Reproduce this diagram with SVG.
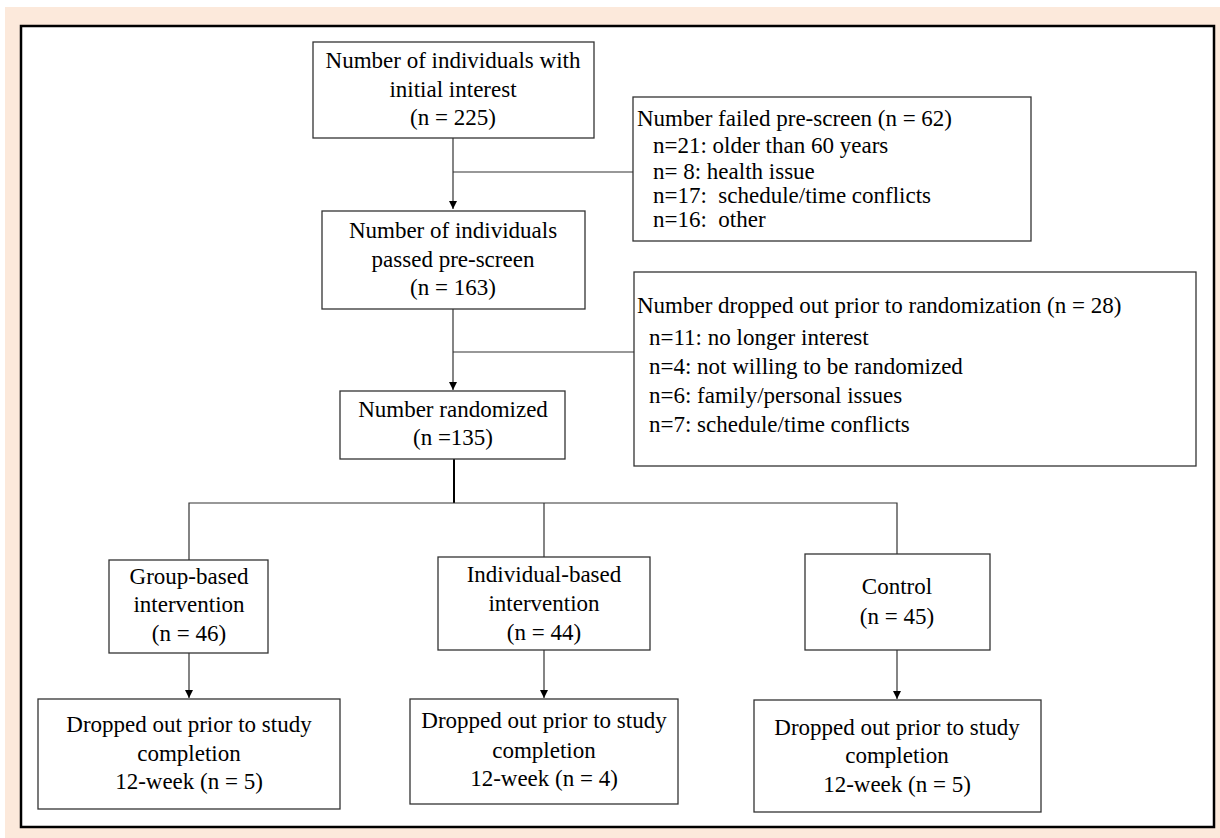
<svg xmlns="http://www.w3.org/2000/svg" width="1220" height="838" viewBox="0 0 1220 838">
<style>
.box{fill:#fff;stroke:#333;stroke-width:1.3}
.t{font-family:"Liberation Serif","Times New Roman",serif;font-size:23px;fill:#000}
.c{text-anchor:middle}
.ln{stroke:#333;stroke-width:1.2;fill:none}
</style>
<defs>
<marker id="ah" markerWidth="8" markerHeight="8" refX="8" refY="4" orient="auto" markerUnits="userSpaceOnUse">
<path d="M0,0 L8,4 L0,8 Z" fill="#000"/>
</marker>
</defs>
<rect x="0" y="0" width="1220" height="838" fill="#fff"/>
<rect x="5" y="7" width="1215" height="831" fill="#FCE9DB"/>
<rect x="21" y="26" width="1193" height="801" fill="#fff" stroke="#000" stroke-width="2.5"/>

<g id="connectors">
<line class="ln" x1="453" y1="138" x2="453" y2="209" marker-end="url(#ah)"/>
<line class="ln" x1="453" y1="172" x2="633" y2="172"/>
<line class="ln" x1="453" y1="309" x2="453" y2="390" marker-end="url(#ah)"/>
<line class="ln" x1="453" y1="352" x2="634" y2="352"/>
<line x1="454" y1="459" x2="454" y2="503" stroke="#000" stroke-width="2"/>
<polyline class="ln" points="189,560 189,503 897,503 897,554"/>
<line class="ln" x1="544" y1="503" x2="544" y2="557"/>
<line class="ln" x1="189" y1="653" x2="189" y2="698" marker-end="url(#ah)"/>
<line class="ln" x1="544" y1="650" x2="544" y2="698" marker-end="url(#ah)"/>
<line class="ln" x1="897" y1="650" x2="897" y2="699" marker-end="url(#ah)"/>
</g>

<g id="n-initial">
<rect class="box" x="313" y="42" width="281" height="96"/>
<text class="t c" x="453" y="68">Number of individuals with</text>
<text class="t c" x="453" y="97">initial interest</text>
<text class="t c" x="453" y="125">(n = 225)</text>
</g>

<g id="n-failed">
<rect class="box" x="633" y="97" width="398" height="144"/>
<text class="t" x="637" y="126">Number failed pre-screen (n = 62)</text>
<text class="t" x="653" y="153">n=21: older than 60 years</text>
<text class="t" x="653" y="179">n= 8: health issue</text>
<text class="t" x="653" y="203" xml:space="preserve">n=17:  schedule/time conflicts</text>
<text class="t" x="653" y="227" xml:space="preserve">n=16:  other</text>
</g>

<g id="n-passed">
<rect class="box" x="322" y="211" width="263" height="98"/>
<text class="t c" x="453" y="238">Number of individuals</text>
<text class="t c" x="453" y="267">passed pre-screen</text>
<text class="t c" x="453" y="295">(n = 163)</text>
</g>

<g id="n-dropped-rand">
<rect class="box" x="634" y="272" width="562" height="194"/>
<text class="t" x="637" y="313">Number dropped out prior to randomization (n = 28)</text>
<text class="t" x="649" y="345">n=11: no longer interest</text>
<text class="t" x="649" y="374">n=4: not willing to be randomized</text>
<text class="t" x="649" y="403">n=6: family/personal issues</text>
<text class="t" x="649" y="432">n=7: schedule/time conflicts</text>
</g>

<g id="n-randomized">
<rect class="box" x="340" y="391" width="225" height="68"/>
<text class="t c" x="453" y="417">Number randomized</text>
<text class="t c" x="453" y="445">(n =135)</text>
</g>

<g id="n-group">
<rect class="box" x="109" y="560" width="159" height="93"/>
<text class="t c" x="189" y="584">Group-based</text>
<text class="t c" x="189" y="612">intervention</text>
<text class="t c" x="189" y="641">(n = 46)</text>
</g>

<g id="n-individual">
<rect class="box" x="438" y="557" width="212" height="93"/>
<text class="t c" x="544" y="582">Individual-based</text>
<text class="t c" x="544" y="611">intervention</text>
<text class="t c" x="544" y="640">(n = 44)</text>
</g>

<g id="n-control">
<rect class="box" x="805" y="554" width="185" height="96"/>
<text class="t c" x="897" y="594">Control</text>
<text class="t c" x="897" y="624">(n = 45)</text>
</g>

<g id="n-drop-group">
<rect class="box" x="38" y="699" width="302" height="110"/>
<text class="t c" x="189" y="732">Dropped out prior to study</text>
<text class="t c" x="189" y="761">completion</text>
<text class="t c" x="189" y="789">12-week (n = 5)</text>
</g>

<g id="n-drop-individual">
<rect class="box" x="410" y="699" width="268" height="105"/>
<text class="t c" x="544" y="728">Dropped out prior to study</text>
<text class="t c" x="544" y="758">completion</text>
<text class="t c" x="544" y="786">12-week (n = 4)</text>
</g>

<g id="n-drop-control">
<rect class="box" x="754" y="700" width="287" height="112"/>
<text class="t c" x="897" y="735">Dropped out prior to study</text>
<text class="t c" x="897" y="763">completion</text>
<text class="t c" x="897" y="792">12-week (n = 5)</text>
</g>
</svg>
